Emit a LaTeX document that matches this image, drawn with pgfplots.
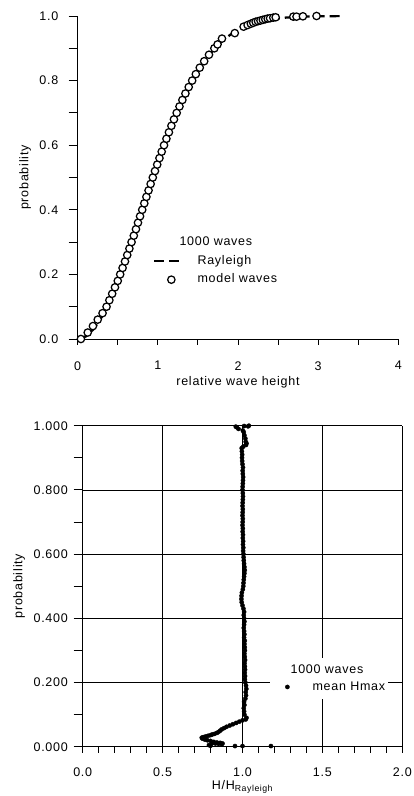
\documentclass[border=0pt]{standalone}
\usepackage{fontspec}
\setmainfont{Liberation Sans}[LetterSpace=6]
\usepackage{pgfplots}
\pgfplotsset{compat=1.18}
\pgfplotsset{
  rayleigh legend/.style={legend image code/.code={\draw[##1] (0pt,0pt) -- (27pt,0pt);}},
  circle legend/.style={legend image code/.code={\path (0pt,0pt) (27pt,0pt); \draw[##1] plot coordinates {(17pt,0pt)};}},
  dot legend/.style={legend image code/.code={\path (0pt,0pt) (20pt,0pt); \draw[##1] plot coordinates {(16pt,0pt)};}},
  common/.style={
    scale only axis,
    anchor=south west,
    axis lines*=left,
    axis line style={black, line width=0.9pt},
    tick align=outside,
    major tick length=9pt, minor tick length=9pt,
    every tick/.style={black, line width=0.9pt},
    xtick style={/pgfplots/major tick length=6pt,/pgfplots/minor tick length=6pt},
    /pgf/number format/assume math mode=true,
    tick label style={font=\fontsize{12.5}{15}\selectfont},
    label style={font=\fontsize{12.5}{15}\selectfont},
    legend cell align=left,
  }
}
\begin{document}
\fontsize{12.5}{15}\selectfont
\begin{tikzpicture}
\useasboundingbox (0,0) rectangle (413pt,796pt);
% ---------------- top axis
\begin{axis}[common,
  at={(77.7pt,457pt)}, width=320.6pt, height=323pt,
  xmin=0, xmax=4, ymin=0, ymax=1,
  xtick={0,1,2,3,4}, minor xtick={0.5,1.5,2.5,3.5},
  ytick={0,0.2,0.4,0.6,0.8,1.0}, minor ytick={0.1,0.3,0.5,0.7,0.9},
  yticklabel style={/pgf/number format/.cd, fixed, fixed zerofill, precision=1},
  xticklabel shift=9pt, yticklabel shift=6pt,
  xlabel={relative wave height}, ylabel={probability},
  xlabel style={yshift=2pt},
  legend style={at={(axis description cs:0.2349,0.3228)}, anchor=north west,
    draw=none, fill=none, inner sep=0pt, row sep=3pt, column sep=13pt,
    nodes={inner sep=2pt, text height=9pt, text depth=2.5pt}},
]
\addlegendimage{empty legend}
\addlegendentry{\hspace{-18pt}1000 waves}
\addplot[black, line width=2.3pt, dash pattern=on 10pt off 5pt, rayleigh legend]
  coordinates {
  (0,0) (0.1,0.0078) (0.2,0.0309) (0.3,0.0682) (0.4,0.1181) (0.5,0.1783)
  (0.6,0.2463) (0.7,0.3194) (0.8,0.3951) (0.9,0.4707) (1.0,0.5441)
  (1.1,0.6134) (1.2,0.6773) (1.3,0.7348) (1.4,0.7855) (1.5,0.8292)
  (1.6,0.8661) (1.7,0.8967) (1.8,0.9215) (1.9,0.9413) (2.0,0.9568)
  (2.2,0.9777) (2.4,0.9892) (2.6,0.9951) (2.8,0.9979) (3.0,0.9991) (3.27,0.9998)
  };
\addlegendentry{Rayleigh}
\addplot[only marks, mark=*, mark size=3.7pt,
  mark options={fill=white, draw=black, line width=1.25pt}, circle legend]
  coordinates {
  (0.04,0.000) (0.125,0.020) (0.19,0.040) (0.25,0.060) (0.31,0.080) (0.36,0.100)
  (0.395,0.120) (0.43,0.140) (0.465,0.160) (0.50,0.180) (0.53,0.200) (0.56,0.220)
  (0.59,0.240) (0.618,0.260) (0.645,0.280) (0.672,0.300) (0.70,0.320) (0.727,0.340)
  (0.752,0.360) (0.778,0.380) (0.805,0.400) (0.831,0.420) (0.857,0.440) (0.884,0.460)
  (0.910,0.480) (0.937,0.500) (0.964,0.520) (0.992,0.540) (1.020,0.560) (1.048,0.580)
  (1.077,0.600) (1.107,0.620) (1.138,0.640) (1.169,0.660) (1.201,0.680) (1.235,0.700)
  (1.270,0.720) (1.306,0.740) (1.344,0.760) (1.385,0.780) (1.428,0.800) (1.474,0.820)
  (1.523,0.840) (1.578,0.860) (1.638,0.880) (1.705,0.900) (1.745,0.912) (1.80,0.930)
  (1.96,0.947) (2.07,0.967) (2.12,0.972) (2.16,0.976) (2.19,0.979) (2.22,0.982)
  (2.25,0.984) (2.28,0.986) (2.31,0.988) (2.34,0.990) (2.37,0.992) (2.40,0.993)
  (2.44,0.995) (2.47,0.996) (2.69,0.998) (2.73,0.998) (2.81,0.999) (2.98,1.000)
  };
\addlegendentry{model waves}
\end{axis}
% ---------------- bottom axis
\begin{axis}[common,
  at={(82.7pt,49.3pt)}, width=319.6pt, height=321pt,
  xmin=0, xmax=2, ymin=0, ymax=1,
  xtick={0,0.5,1,1.5,2}, minor xtick={0.1,0.2,0.3,0.4,0.6,0.7,0.8,0.9,1.1,1.2,1.3,1.4,1.6,1.7,1.8,1.9},
  ytick={0,0.2,0.4,0.6,0.8,1.0}, minor ytick={0.1,0.3,0.5,0.7,0.9},
  xticklabel style={/pgf/number format/.cd, fixed, fixed zerofill, precision=1},
  yticklabel style={/pgf/number format/.cd, fixed, fixed zerofill, precision=3},
  xticklabel shift=8pt, yticklabel shift=1.5pt,
  grid=major, major grid style={black, line width=0.7pt},
  xlabel={H/H\textsubscript{Rayleigh}}, ylabel={probability},
  xlabel style={yshift=5pt},
  legend style={at={(axis description cs:0.586,0.2763)}, anchor=north west,
    draw=none, fill=white, inner xsep=1pt, inner ysep=4pt, row sep=1.5pt, column sep=19pt,
    nodes={inner sep=2pt, text height=9pt, text depth=2.5pt}},
]
\addlegendimage{empty legend}
\addlegendentry{\hspace{-22pt}1000 waves}
\addplot[only marks, mark=*, mark size=2.1pt, black, dot legend]
  coordinates {
  (1.025,0.09) (1.012,0.10) (1.010,0.11) (1.008,0.12) (1.012,0.13) (1.010,0.14)
  (1.018,0.15) (1.022,0.16) (1.020,0.17) (1.024,0.18) (1.022,0.19) (1.018,0.20)
  (1.015,0.21) (1.016,0.22) (1.014,0.23) (1.016,0.24) (1.015,0.25) (1.013,0.26)
  (1.016,0.27) (1.014,0.28) (1.012,0.29) (1.015,0.30) (1.014,0.31) (1.012,0.32)
  (1.014,0.33) (1.010,0.34) (1.012,0.35) (1.010,0.36) (1.008,0.37) (1.010,0.38)
  (1.012,0.39) (1.010,0.40) (1.008,0.41) (1.010,0.42) (1.006,0.43) (1.000,0.44)
  (0.995,0.45) (0.993,0.46) (0.994,0.47) (0.996,0.48) (1.002,0.49) (1.005,0.50)
  (1.006,0.51) (1.008,0.52) (1.010,0.53) (1.012,0.54) (1.014,0.55) (1.012,0.56)
  (1.010,0.57) (1.008,0.58) (1.007,0.59) (1.006,0.60) (1.004,0.61) (1.005,0.62)
  (1.003,0.63) (1.004,0.64) (1.002,0.65) (1.003,0.66) (1.001,0.67) (1.002,0.68)
  (1.000,0.69) (1.001,0.70) (1.002,0.71) (1.000,0.72) (1.001,0.73) (1.002,0.74)
  (1.000,0.75) (1.001,0.76) (1.002,0.77) (1.003,0.78) (1.002,0.79) (1.000,0.80)
  (1.001,0.81) (1.002,0.82) (1.003,0.83) (1.004,0.84) (1.002,0.85) (1.001,0.86)
  (1.003,0.87) (1.000,0.88) (0.998,0.89) (0.997,0.90) (0.998,0.91) (0.996,0.92)
  (0.995,0.93) (1.005,0.935) (1.022,0.94) (1.025,0.945) (1.020,0.95) (1.018,0.96)
  (1.012,0.97) (1.008,0.98) (1.002,0.985) (0.975,0.99) (0.965,0.995) (0.958,0.997)
  (1.035,0.998) (1.040,1.000) (1.010,0.999)
  (1.02,0.085) (1.00,0.082) (0.98,0.078) (0.96,0.074) (0.94,0.070) (0.92,0.066)
  (0.90,0.062) (0.885,0.058) (0.87,0.054) (0.86,0.050) (0.85,0.046) (0.84,0.043)
  (0.825,0.040) (0.81,0.038) (0.80,0.036) (0.785,0.034) (0.77,0.032) (0.755,0.030)
  (0.745,0.028) (0.75,0.025) (0.765,0.022) (0.78,0.020) (0.80,0.018) (0.82,0.015)
  (0.84,0.013) (0.86,0.012) (0.875,0.010) (0.87,0.008) (0.85,0.009) (0.83,0.010)
  (0.81,0.011) (0.79,0.005) (0.80,0.003) (0.953,0.002) (1.0,0.002) (1.178,0.002)
  };
\addlegendentry{mean Hmax}
\end{axis}
\end{tikzpicture}
\end{document}
